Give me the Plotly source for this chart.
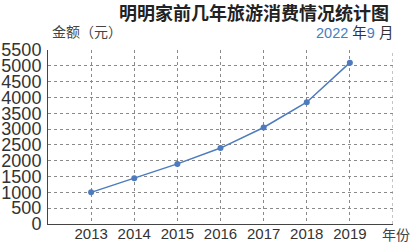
import plotly.graph_objects as go

years = [2013, 2014, 2015, 2016, 2017, 2018, 2019]
spending = [1000, 1450, 1900, 2400, 3050, 3850, 5100]
y_ticks = list(range(0, 5501, 500))
x_ticks = years

title_text = "明明家前几年旅游消费情况统计图"
y_title = "金额（元）"
x_title = "年份"
date_text = "<span style='color:#4a7cc0'>2022</span> 年<span style='color:#4a7cc0'>9</span> 月"

line_color = "#4d7bbd"
grid_color = "#8a8a8a"
text_color = "#333333"

fig = go.Figure()
fig.add_trace(go.Scatter(
    x=years, y=spending, mode="lines+markers",
    line=dict(color=line_color, width=1.5),
    marker=dict(color=line_color, size=6),
    showlegend=False, cliponaxis=False,
))

fig.update_layout(
    width=416, height=244,
    margin=dict(l=48, r=23, t=50, b=20),
    paper_bgcolor="white", plot_bgcolor="white",
    font=dict(family="Liberation Sans, Arial, sans-serif", color=text_color),
)
fig.update_xaxes(
    range=[2012, 2020], tickmode="array", tickvals=x_ticks,
    ticktext=[str(v) for v in x_ticks], ticks="", automargin=False,
    showgrid=True, gridcolor=grid_color, gridwidth=1, griddash="dot",
    showline=True, linecolor="#444444", linewidth=1,
    tickfont=dict(size=15, color=text_color),
    zeroline=False, ticklabelstandoff=-4,
)
fig.update_yaxes(
    range=[0, 5500], tickmode="array", tickvals=y_ticks,
    ticktext=[str(v) for v in y_ticks], ticks="", automargin=False,
    showgrid=True, gridcolor=grid_color, gridwidth=1, griddash="dot",
    showline=True, linecolor="#444444", linewidth=1,
    tickfont=dict(size=18, color=text_color), zeroline=False,
    ticklabelstandoff=2,
)
fig.add_shape(type="line", xref="x", yref="paper", x0=2020, x1=2020, y0=0, y1=1,
              line=dict(color=grid_color, width=1, dash="dot"))

fig.add_annotation(text=title_text, xref="paper", yref="paper", x=248/416, y=1,
                   xanchor="center", yanchor="middle", showarrow=False,
                   yshift=50 - 12,
                   font=dict(family="Noto Sans CJK SC", size=18, color="#222222", weight="bold"))
fig.add_annotation(text=y_title, xref="paper", yref="paper", x=0, y=1, xanchor="left",
                   yanchor="middle", showarrow=False, yshift=50 - 31, xshift=2,
                   font=dict(family="Noto Sans CJK SC", size=14, color="#444444"))
fig.add_annotation(text=date_text, xref="paper", yref="paper", x=1, y=1, xanchor="right",
                   yanchor="middle", showarrow=False, yshift=50 - 33, xshift=2,
                   font=dict(family="Liberation Sans, Noto Sans CJK SC", size=14.5, color="#333333"))
fig.add_annotation(text=x_title, xref="paper", yref="paper", x=1, y=0, xanchor="left",
                   yanchor="middle", showarrow=False, yshift=-10, xshift=-13,
                   font=dict(family="Noto Sans CJK SC", size=14, color="#444444"))

fig.write_html("out.html")
